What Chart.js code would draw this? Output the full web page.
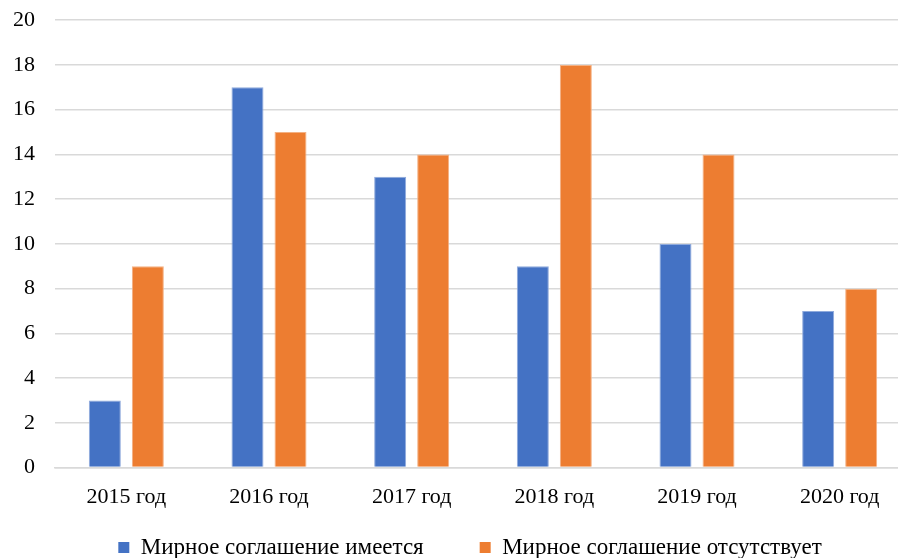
<!DOCTYPE html>
<html>
<head>
<meta charset="utf-8">
<script src="https://cdn.jsdelivr.net/npm/chart.js@4"></script>
<style>
html,body{margin:0;padding:0;background:#fff;overflow:hidden;width:898px;height:558px;position:relative;}
#wrap{position:absolute;left:0;top:-13px;width:940px;height:571px;}
</style>
</head>
<body>
<div id="wrap"><canvas id="c"></canvas></div>
<script>
const categories = ["2015 год","2016 год","2017 год","2018 год","2019 год","2020 год"];
const seriesNames = ["Мирное соглашение имеется","Мирное соглашение отсутствует"];
const peaceYes = [3,17,13,9,10,7];
const peaceNo = [9,15,14,18,14,8];
const yTicks = [0,2,4,6,8,10,12,14,16,18,20];

const FAM = "'Liberation Serif','Times New Roman',serif";
const shiftLegend = {
  id:'shiftLegend',
  afterLayout(chart){ const l = chart.legend; if(l){ l.left += 12; l.right += 12; } }
};
new Chart(document.getElementById('c'), {
  type:'bar',
  data:{
    labels:categories,
    datasets:[
      {label:seriesNames[0], data:peaceYes, backgroundColor:'#4472C4', borderColor:'#8faadc', borderWidth:1, barPercentage:0.744, categoryPercentage:0.603},
      {label:seriesNames[1], data:peaceNo, backgroundColor:'#ED7D31', borderColor:'#f4b183', borderWidth:1, barPercentage:0.744, categoryPercentage:0.603}
    ]
  },
  plugins:[shiftLegend],
  options:{
    responsive:true, maintainAspectRatio:false, animation:false,
    layout:{padding:{left:5,right:29,top:0,bottom:0}},
    plugins:{
      legend:{position:'bottom', maxHeight:32,
        labels:{font:{family:FAM,size:23}, color:'#000', boxWidth:11, boxHeight:11, padding:10,
          generateLabels:(chart)=>{
            const items = Chart.defaults.plugins.legend.labels.generateLabels(chart);
            items.forEach((it,i)=>{ if(i===0) it.text = it.text + '        '; it.lineWidth=0; });
            return items;
          }}},
      tooltip:{enabled:false}
    },
    scales:{
      x:{grid:{display:false, drawTicks:false}, border:{display:true,color:'#d9d9d9',width:1.5},
         ticks:{font:{family:FAM,size:22},color:'#000',padding:16}},
      y:{min:0,max:20, afterBuildTicks:(s)=>{s.ticks=yTicks.map(v=>({value:v}));},
         afterFit:(s)=>{s.width=50;},
         grid:{color:'#d9d9d9',lineWidth:1.5, drawTicks:false}, border:{display:false},
         ticks:{font:{family:FAM,size:22},color:'#000',padding:20}}
    }
  }
});
</script>
</body>
</html>
